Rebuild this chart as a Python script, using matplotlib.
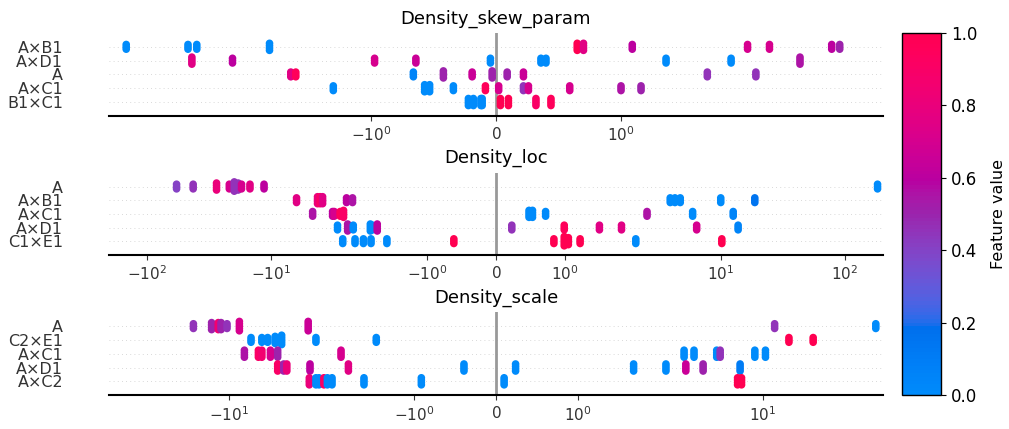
import numpy as np
import matplotlib
matplotlib.use("Agg")
import matplotlib.pyplot as plt
from matplotlib.colors import ListedColormap, Normalize
from matplotlib.cm import ScalarMappable
from matplotlib.ticker import NullLocator

# ── data (SHAP values per feature row, top row first) ─────────────────────────
titles = ["Density_skew_param", "Density_loc", "Density_scale"]

skew_features = ["A×B1", "A×D1", "A", "A×C1", "B1×C1"]
skew_shap = [
    [-6.79, -3.61, -3.30, -1.81, 0.65, 0.70, 1.09, 2.03, 2.54, 4.80, 5.21],
    [-3.47, -2.29, -0.97, -0.64, -0.044, 0.36, 0.40, 1.36, 1.88, 3.47],
    [-1.64, -1.60, -0.66, -0.42, -0.19, -0.03, 0.09, 0.22, 1.69, 2.21],
    [-1.30, -0.57, -0.53, -0.34, -0.084, 0.022, 0.22, 0.26, 0.59, 1.00, 1.16],
    [-0.22, -0.18, -0.12, -0.11, 0.036, 0.10, 0.32, 0.44],
]
skew_value = [
    [0.0, 0.0, 0.0, 0.0, 1.0, 0.75, 0.6, 0.7, 0.7, 0.6, 0.5],
    [0.75, 0.6, 0.7, 0.65, 0.0, 0.0, 0.0, 0.0, 0.0, 0.55],
    [0.75, 0.95, 0.05, 0.5, 0.65, 0.5, 0.5, 0.65, 0.45, 0.45],
    [0.0, 0.0, 0.0, 0.0, 0.95, 0.7, 0.45, 0.7, 0.7, 0.55, 0.5],
    [0.0, 0.0, 0.0, 0.0, 1.0, 1.0, 0.9, 0.95],
]
skew_count = [
    [3, 3, 3, 4, 4, 4, 3, 3, 3, 3, 3],
    [4, 3, 3, 3, 3, 3, 3, 3, 3, 4],
    [3, 3, 3, 4, 3, 4, 3, 3, 3, 3],
    [3, 4, 4, 3, 3, 3, 3, 3, 3, 3, 3],
    [4, 4, 4, 4, 4, 4, 4, 4],
]

loc_features = ["A", "A×B1", "A×C1", "A×D1", "C1×E1"]
loc_shap = [
    [-57.7, -42.4, -27.5, -21.7, -19.8, -18.4, -17.3, -14.8, -11.4, 183.0],
    [-6.24, -4.23, -4.03, -3.85, -2.47, -2.21, 3.92, 4.28, 4.72, 10.0, 18.8],
    [-4.63, -3.20, -3.10, -2.78, -2.61, 0.48, 0.53, 0.72, 2.55, 5.94, 12.6],
    [-2.92, -2.42, -2.18, -1.82, -1.79, -1.72, 0.23, 0.99, 1.50, 1.82, 6.40, 13.8],
    [-2.65, -2.11, -1.92, -1.81, -1.58, -0.61, 0.84, 0.99, 1.05, 1.22, 2.07, 10.2],
]
loc_value = [
    [0.4, 0.45, 0.8, 0.7, 0.45, 0.45, 0.7, 0.75, 0.6, 0.0],
    [0.75, 0.8, 0.9, 0.75, 0.6, 0.55, 0.0, 0.0, 0.0, 0.0, 0.15],
    [0.55, 0.6, 0.7, 0.95, 0.9, 0.0, 0.0, 0.0, 0.55, 0.0, 0.05],
    [0.0, 0.55, 0.0, 0.0, 0.0, 0.6, 0.45, 0.95, 0.75, 0.75, 0.7, 0.05],
    [0.0, 0.0, 0.0, 0.0, 0.0, 1.0, 1.0, 1.0, 1.0, 1.0, 0.0, 1.0],
]
loc_count = [
    [3, 3, 4, 3, 5, 4, 3, 3, 3, 3],
    [3, 4, 4, 4, 3, 3, 3, 3, 3, 3, 3],
    [3, 3, 3, 3, 4, 4, 4, 3, 3, 3, 3],
    [3, 4, 3, 4, 3, 4, 3, 3, 3, 3, 3, 3],
    [3, 3, 3, 3, 3, 3, 3, 5, 4, 3, 3, 3],
]

scale_features = ["A", "C2×E1", "A×C1", "A×D1", "A×C2"]
scale_shap = [
    [-17.4, -13.1, -11.8, -11.3, -10.3, -8.49, -2.90, 12.0, 58.2],
    [-7.08, -5.98, -5.46, -4.86, -4.39, -2.57, -1.46, 15.0, 21.9],
    [-7.85, -6.31, -5.98, -5.23, -4.67, -1.89, 2.92, 3.41, 4.86, 5.13, 8.81, 10.4],
    [-4.67, -4.25, -4.05, -2.82, -1.80, -0.39, 0.24, 1.68, 2.20, 3.00, 3.93, 7.00],
    [-2.85, -2.57, -2.45, -2.27, -2.15, -2.00, -1.61, -0.91, 0.10, 6.73, 7.16],
]
scale_value = [
    [0.45, 0.5, 0.85, 0.5, 0.45, 0.7, 0.65, 0.45, 0.0],
    [0.0, 0.0, 0.0, 0.0, 0.0, 0.0, 0.0, 1.0, 1.0],
    [0.55, 0.9, 0.85, 0.7, 0.5, 0.7, 0.0, 0.0, 0.0, 0.45, 0.0, 0.0],
    [0.9, 0.5, 0.8, 0.6, 0.75, 0.0, 0.0, 0.0, 0.0, 0.65, 0.5, 0.1],
    [0.8, 0.0, 0.0, 0.9, 0.0, 0.0, 0.0, 0.0, 0.0, 1.0, 1.0],
]
scale_count = [
    [3, 4, 4, 4, 3, 5, 5, 3, 3],
    [3, 3, 3, 4, 5, 3, 3, 3, 3],
    [4, 4, 4, 4, 4, 4, 4, 4, 4, 4, 4, 4],
    [4, 4, 4, 4, 4, 4, 4, 4, 4, 4, 4, 4],
    [4, 4, 4, 4, 4, 4, 4, 4, 4, 4, 4],
]

x_limits = [8.1, 202, 65]


# ── SHAP-style red/blue colormap (LCH interpolation) ──────────────────────────
def lch_to_rgb(l, c, h):
    a, b = c * np.cos(h), c * np.sin(h)
    fy = (l + 16) / 116
    fx, fz = fy + a / 500, fy - b / 200

    def finv(t):
        return np.where(t > 6 / 29, t ** 3, 3 * (6 / 29) ** 2 * (t - 4 / 29))

    xyz = np.array([0.95047 * finv(fx), finv(fy), 1.08883 * finv(fz)])
    m = np.array([[3.2406, -1.5372, -0.4986],
                  [-0.9689, 1.8758, 0.0415],
                  [0.0557, -0.2040, 1.0570]])
    rgb = m @ xyz
    rgb = np.where(rgb > 0.0031308, 1.055 * np.abs(rgb) ** (1 / 2.4) - 0.055, 12.92 * rgb)
    return np.clip(rgb, 0, 1)


nsteps = 100
blue_lch = (54.0, 70.0, 4.6588)
red_lch = (54.0, 90.0, 0.35470565 + 2 * np.pi)
ls = np.r_[np.linspace(blue_lch[0], 40.0, nsteps // 2), np.linspace(40.0, red_lch[0], nsteps // 2)]
cs = np.linspace(blue_lch[1], red_lch[1], nsteps)
hs = np.linspace(blue_lch[2], red_lch[2], nsteps)
red_blue = ListedColormap([lch_to_rgb(l, c, h) for l, c, h in zip(ls, cs, hs)])
norm = Normalize(0, 1)

# ── figure ───────────────────────────────────────────────────────────────────
fig = plt.figure(figsize=(10.09, 4.29), dpi=100)
fig.patch.set_facecolor("white")
axes_rects = [
    [0.108, 0.730, 0.767, 0.193],
    [0.108, 0.406, 0.767, 0.191],
    [0.108, 0.079, 0.767, 0.193],
]
panels = [
    (skew_features, skew_shap, skew_value, skew_count),
    (loc_features, loc_shap, loc_value, loc_count),
    (scale_features, scale_shap, scale_value, scale_count),
]
STEP = 0.17  # vertical spacing of stacked points (row units)

for rect, title, lim, (feats, shap, vals, counts) in zip(axes_rects, titles, x_limits, panels):
    ax = fig.add_axes(rect)
    n = len(feats)
    ax.axvline(0, color="#999999", lw=2, zorder=-1)
    for i in range(n):
        row = n - 1 - i
        ax.axhline(row, color="#cccccc", lw=0.6, dashes=(1, 4), zorder=-2)
        xs, ys, cv = [], [], []
        for x, v, k in zip(shap[i], vals[i], counts[i]):
            offs = (np.arange(k) - (k - 1) / 2) * STEP
            xs += [x] * k
            ys += list(row + offs)
            cv += [v] * k
        ax.scatter(xs, ys, c=cv, cmap=red_blue, norm=norm, s=30, lw=0, zorder=3)
    ax.set_xscale("symlog")
    ax.set_xlim(-lim, lim)
    ax.set_ylim(-1, n)
    ax.xaxis.set_minor_locator(NullLocator())
    ax.set_yticks(range(n))
    ax.set_yticklabels(list(reversed(feats)), fontsize=11.5, color="#333333")
    ax.tick_params("y", length=0, pad=33)
    ax.tick_params("x", labelsize=11, colors="#333333", length=3.5, width=0.8)
    for s in ("top", "right", "left"):
        ax.spines[s].set_visible(False)
    ax.spines["bottom"].set_linewidth(1.5)
    ax.set_title(title, fontsize=13, pad=7)

cax = fig.add_axes([0.894, 0.079, 0.0387, 0.844])
cb = fig.colorbar(ScalarMappable(norm=norm, cmap=red_blue), cax=cax, ticks=np.linspace(0, 1, 6))
cb.outline.set_linewidth(1)
cb.ax.tick_params(labelsize=12)
cb.set_label("Feature value", fontsize=11.5, labelpad=10)

plt.savefig("out.png", dpi=100, facecolor="white")
